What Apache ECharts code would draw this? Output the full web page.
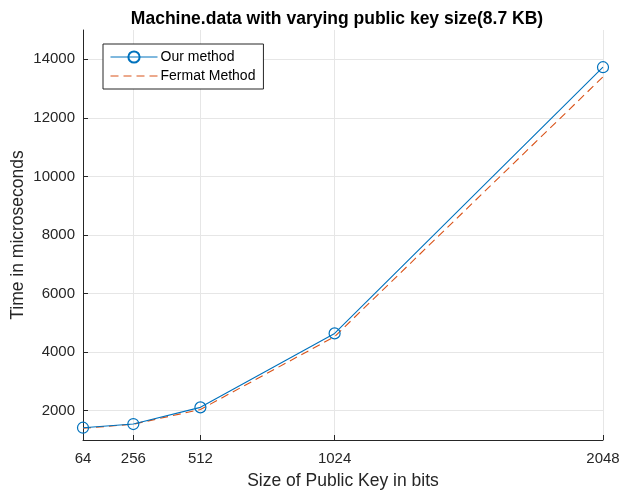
<!DOCTYPE html>
<html>
<head>
<meta charset="utf-8">
<script src="https://cdn.jsdelivr.net/npm/echarts@6/dist/echarts.min.js"></script>
<style>
  html, body { margin: 0; padding: 0; background: #fff; }
  #chart { width: 621px; height: 496px; }
</style>
</head>
<body>
<div id="chart"></div>
<script>
// Key sizes (bits) and measured running times (microseconds)
const keySizes = [64, 256, 512, 1024, 2048];
const ourMethod = [1420, 1545, 2115, 4640, 13730];
const fermatMethod = [1400, 1540, 2040, 4530, 13400];
const yTicks = [2000, 4000, 6000, 8000, 10000, 12000, 14000];

const FONT = '"Liberation Sans", Arial, Helvetica, sans-serif';
const BLUE = '#0072BD';
const ORANGE = '#D95319';
const AXIS = '#262626';

const pairs = (xs, ys) => xs.map((x, i) => [x, ys[i]]);

const chart = echarts.init(document.getElementById('chart'), null, { renderer: 'canvas' });

chart.setOption({
  animation: false,
  backgroundColor: '#ffffff',
  title: {
    text: 'Machine.data with varying public key size(8.7 KB)',
    left: 332, top: 5, textAlign: 'center',
    textStyle: { fontFamily: FONT, fontSize: 17.5, fontWeight: 'bold', color: '#000' }
  },
  grid: { left: 83, right: 18, top: 30, bottom: 56, containLabel: false, outerBoundsMode: 'none' },
  legend: {
    orient: 'vertical',
    left: 103, top: 44,
    padding: [6, 8, 6, 7],
    itemGap: 5,
    itemWidth: 47, itemHeight: 14,
    backgroundColor: '#fff',
    borderColor: AXIS, borderWidth: 1,
    borderRadius: 0,
    textStyle: { fontFamily: FONT, fontSize: 14, color: '#000', padding: [0, 0, 0, -2] },
    data: [
      { name: 'Our method', lineStyle: { width: 1 } },
      { name: 'Fermat Method', lineStyle: { width: 1 }, itemStyle: { opacity: 0 } }
    ]
  },
  xAxis: {
    type: 'value',
    min: 64, max: 2048,
    name: 'Size of Public Key in bits',
    nameLocation: 'middle', nameGap: 32,
    nameTextStyle: { fontFamily: FONT, fontSize: 17.5, color: AXIS },
    axisLine: { show: true, lineStyle: { color: AXIS, width: 1 } },
    axisTick: { show: true, inside: true, length: 5, customValues: keySizes, lineStyle: { color: AXIS } },
    axisLabel: {
      customValues: keySizes, fontFamily: FONT, fontSize: 15, color: AXIS, margin: 11,
      formatter: v => String(v)
    },
    splitLine: { show: true, lineStyle: { color: '#e6e6e6', width: 1 } }
  },
  yAxis: {
    type: 'value',
    min: 1000, max: 15000,
    name: 'Time in microseconds',
    nameLocation: 'middle', nameGap: 56,
    nameMoveOverlap: false,
    nameTextStyle: { fontFamily: FONT, fontSize: 17.5, color: AXIS },
    axisLine: { show: true, lineStyle: { color: AXIS, width: 1 } },
    axisTick: { show: true, inside: true, length: 5, customValues: yTicks, lineStyle: { color: AXIS } },
    axisLabel: {
      customValues: yTicks, fontFamily: FONT, fontSize: 15, color: AXIS, margin: 8,
      formatter: v => String(v)
    },
    splitLine: { show: true, lineStyle: { color: '#e6e6e6', width: 1 } }
  },
  series: [
    {
      name: 'Our method',
      type: 'line',
      data: pairs(keySizes, ourMethod),
      symbol: 'circle',
      symbolSize: 11,
      lineStyle: { color: BLUE, width: 1.1 },
      itemStyle: { color: 'rgba(255,255,255,0)', borderColor: BLUE, borderWidth: 1.2 },
      z: 3
    },
    {
      name: 'Fermat Method',
      type: 'line',
      data: pairs(keySizes, fermatMethod),
      symbol: 'none',
      lineStyle: { color: ORANGE, width: 1.1, type: [8, 5] },
      itemStyle: { color: ORANGE },
      z: 2
    }
  ]
});
</script>
</body>
</html>
